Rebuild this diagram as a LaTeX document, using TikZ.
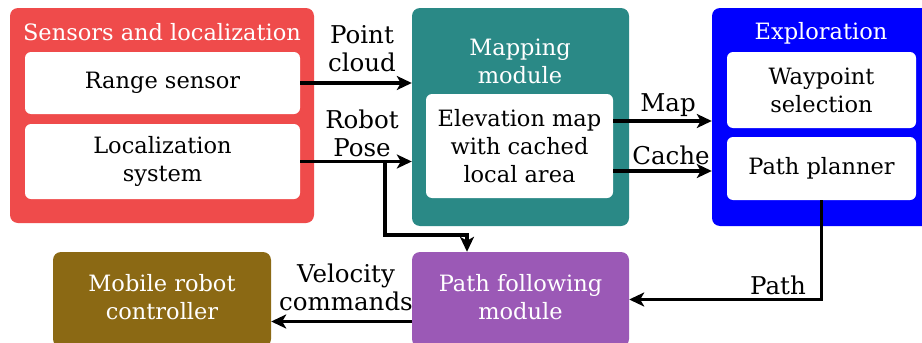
\documentclass[tikz,border=0pt]{standalone}
\usepackage{fontspec}
\setmainfont{DejaVu Serif}
\usetikzlibrary{arrows.meta}
\definecolor{cred}{HTML}{EF4B4B}
\definecolor{cteal}{HTML}{2A8986}
\definecolor{cblue}{HTML}{0000FF}
\definecolor{cbrown}{HTML}{8B6914}
\definecolor{cpurple}{HTML}{9B59B6}
\tikzset{
  outerbox/.style={draw=none, rounded corners=8pt, inner sep=0pt},
  innerbox/.style={fill=white, draw=none, rounded corners=6pt, inner sep=0pt, align=center, text=black, font=\fontsize{22.5}{28}\selectfont},
  titletext/.style={text=white, align=center, font=\fontsize{22.5}{28}\selectfont},
  lbl/.style={text=black, align=center, font=\fontsize{24.5}{28}\selectfont},
  arr/.style={line width=3.6pt, -{Stealth[length=15pt,width=14pt,inset=4pt]}},
}
\begin{document}
\begin{tikzpicture}[x=1pt,y=-1pt]
\useasboundingbox (0,0) rectangle (922,343);
% outer boxes
\node[outerbox, fill=cred, minimum width=304pt, minimum height=215pt] (sens) at (162,115.5) {};
\node[titletext] (senst) at (162,32) {Sensors and localization};
\node[innerbox, minimum width=275pt, minimum height=62pt] (range) at (162.5,83) {Range sensor};
\node[innerbox, minimum width=275pt, minimum height=75pt] (loc) at (162.5,161.5) {Localization\\system};

\node[outerbox, fill=cteal, minimum width=217pt, minimum height=218pt] (map) at (520.5,117) {};
\node[titletext] (mapt) at (520,61) {Mapping\\module};
\node[innerbox, minimum width=187pt, minimum height=104pt] (elev) at (519.5,146) {Elevation map\\with cached\\local area};

\node[outerbox, fill=cblue, minimum width=218pt, minimum height=218pt] (expl) at (821,117) {};
\node[titletext] (explt) at (821,33) {Exploration};
\node[innerbox, minimum width=189pt, minimum height=76pt] (wp) at (821.5,90) {Waypoint\\selection};
\node[innerbox, minimum width=189pt, minimum height=63pt] (pp) at (821.5,168.5) {Path planner};

\node[outerbox, fill=cbrown, minimum width=218pt, minimum height=95pt] (mob) at (162,299.5) {};
\node[titletext] (mobt) at (162,297) {Mobile robot\\controller};
\node[outerbox, fill=cpurple, minimum width=217pt, minimum height=95pt] (pf) at (520.5,299.5) {};
\node[titletext] (pft) at (520.5,297) {Path following\\module};

% arrows
\draw[arr] (range.east) -- (range.east -| map.west);
\draw[arr] (loc.east) -- (loc.east -| map.west);
\coordinate (br) at (385,161.5);
\coordinate (bd) at (385,235);
\coordinate (be) at (467,235);
\draw[arr] (br) -- (bd) -- (be) -- (be |- pf.north);
\draw[arr] ([yshift=25pt]elev.east) -- ([yshift=25pt]elev.east -| expl.west);
\draw[arr] ([yshift=-25pt]elev.east) -- ([yshift=-25pt]elev.east -| expl.west);
\draw[arr] (pp.south) |- (pf.east);
\draw[arr] ([yshift=-22pt]pf.west) -- ([yshift=-22pt]pf.west -| mob.east);

% labels
\node[lbl] (lpc) at (362,49) {Point\\cloud};
\node[lbl] (lrp) at (362,133) {Robot\\Pose};
\node[lbl] (lmap) at (668,105) {Map};
\node[lbl] (lcache) at (671,155) {Cache};
\node[lbl] (lpath) at (778,285) {Path};
\node[lbl] (lvel) at (346,287) {Velocity\\commands};
\end{tikzpicture}
\end{document}
